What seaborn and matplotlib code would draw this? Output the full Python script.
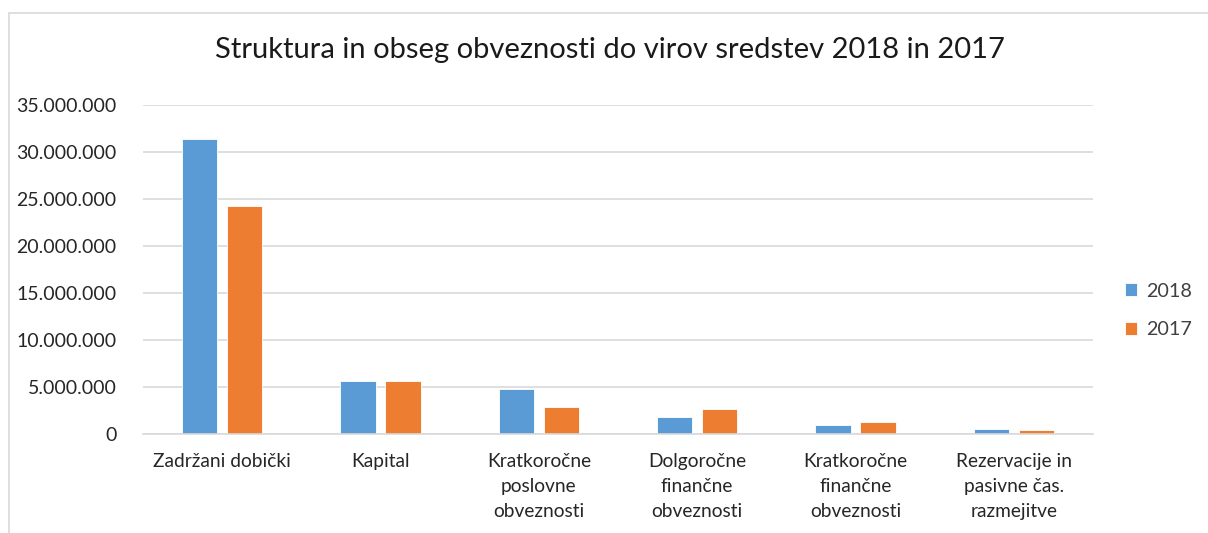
import numpy as np
import pandas as pd
import matplotlib
matplotlib.use("Agg")
import matplotlib.pyplot as plt
import matplotlib.ticker as mticker
from matplotlib.patches import Rectangle
import seaborn as sns

# data
categories = ["Zadržani dobički", "Kapital", "Kratkoročne\nposlovne\nobveznosti",
              "Dolgoročne\nfinančne\nobveznosti", "Kratkoročne\nfinančne\nobveznosti",
              "Rezervacije in\npasivne čas.\nrazmejitve"]
years = ["2018", "2017"]
values_2018 = [31400000, 5620000, 4800000, 1810000, 950000, 500000]
values_2017 = [24240000, 5620000, 2810000, 2670000, 1250000, 360000]
y_ticks = [0, 5000000, 10000000, 15000000, 20000000, 25000000, 30000000, 35000000]

df = pd.DataFrame({
    "Kategorija": categories * 2,
    "Leto": [years[0]] * len(categories) + [years[1]] * len(categories),
    "Vrednost": values_2018 + values_2017,
})

sns.set_theme(style="white")
plt.rcParams["font.family"] = ["Lato", "DejaVu Sans"]

fig = plt.figure(figsize=(12.08, 5.33), dpi=100)
ax = fig.add_axes([143 / 1208, 1 - 433.7 / 533, (1093 - 143) / 1208, (433.7 - 105) / 533])

palette = {"2018": "#5B9BD5", "2017": "#ED7D31"}
sns.barplot(data=df, x="Kategorija", y="Vrednost", hue="Leto", hue_order=years,
            palette=palette, width=0.568, gap=0.22, ax=ax, saturation=1,
            edgecolor="white", linewidth=0.6)

ax.set_ylim(0, 35000000)
ax.set_xlim(-0.5, len(categories) - 0.5)
ax.set_yticks(y_ticks)
ax.yaxis.set_major_formatter(mticker.FuncFormatter(lambda v, p: f"{int(v):,}".replace(",", ".")))
ax.yaxis.grid(True, color="#D9D9D9", linewidth=1.2)
ax.set_axisbelow(True)
for s in ["left", "right", "top"]:
    ax.spines[s].set_visible(False)
ax.spines["bottom"].set_color("#D9D9D9")
ax.spines["bottom"].set_linewidth(1.2)
ax.tick_params(axis="both", length=0, colors="#262626")
ax.tick_params(axis="y", pad=19, labelsize=14)
ax.tick_params(axis="x", pad=14, labelsize=13.8)
for lbl in ax.get_xticklabels():
    lbl.set_linespacing(1.55)
    lbl.set_verticalalignment("top")
ax.set_xlabel("")
ax.set_ylabel("")

leg = ax.legend(loc="center left", bbox_to_anchor=(1.015, 0.375), frameon=False,
                fontsize=14.2, handlelength=0.6, handleheight=0.6, labelspacing=1.1,
                handletextpad=0.45)
for t in leg.get_texts():
    t.set_color("#404040")

fig.text(0.505, 1 - 50 / 533, "Struktura in obseg obveznosti do virov sredstev 2018 in 2017",
         ha="center", va="center", fontsize=21, color="#1a1a1a")

# chart frame
fig.patches.append(Rectangle((9 / 1208, -0.1), 1.2, 1 - 13 / 533 + 0.1, transform=fig.transFigure,
                             fill=False, edgecolor="#D9D9D9", linewidth=1.2))

fig.savefig("out.png", dpi=100)
